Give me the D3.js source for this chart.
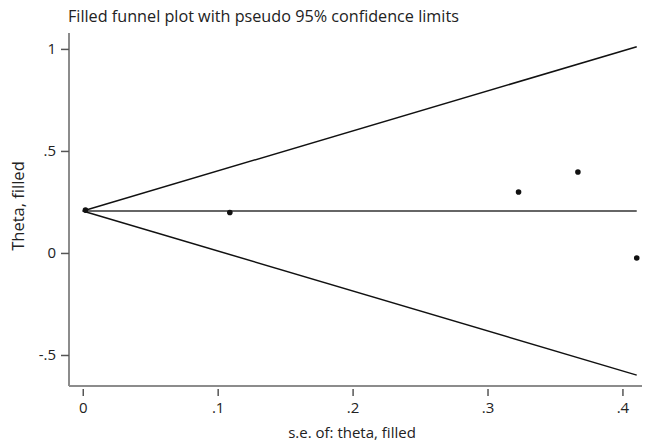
<!DOCTYPE html>
<html>
<head>
<meta charset="utf-8">
<script src="https://cdn.jsdelivr.net/npm/d3@7"></script>
<style>
  body { margin: 0; background: #fff; }
  svg { display: block; font-family: "Open Sans", "Noto Sans", sans-serif; }
</style>
</head>
<body>
<svg width="646" height="445"></svg>
<script>
// study points (standard error, effect)
var seVals = [0.002, 0.109, 0.323, 0.367, 0.4106];
var thetaVals = [0.210, 0.198, 0.299, 0.397, -0.025];
var pooledTheta = 0.206;
var seMax = 0.4106;
var xTicks = [0, 0.1, 0.2, 0.3, 0.4];
var xTickLabels = ["0", ".1", ".2", ".3", ".4"];
var yTicks = [-0.5, 0, 0.5, 1];
var yTickLabels = ["-.5", "0", ".5", "1"];

var svg = d3.select("svg"),
    margin = {top: 33, right: 4, bottom: 59, left: 69},
    width = +svg.attr("width") - margin.left - margin.right,
    height = +svg.attr("height") - margin.top - margin.bottom;

var x = d3.scaleLinear().domain([-0.0102, 0.4145]).range([0, width]);
var y = d3.scaleLinear().domain([-0.652, 1.078]).range([height, 0]);

var g = svg.append("g").attr("transform", "translate(" + margin.left + "," + margin.top + ")");

// axis lines
g.append("line")
    .attr("x1", 0).attr("x2", 0).attr("y1", 0).attr("y2", height)
    .attr("stroke", "#8c8c8c").attr("stroke-width", 2);
g.append("line")
    .attr("x1", 0).attr("x2", width).attr("y1", height).attr("y2", height)
    .attr("stroke", "#8c8c8c").attr("stroke-width", 2);

// x ticks
var xAxis = g.append("g")
    .attr("transform", "translate(0," + (height + 3) + ")")
    .call(d3.axisBottom(x).tickValues(xTicks).tickSize(7).tickPadding(6)
        .tickFormat(function(d, i) { return xTickLabels[i]; }));
xAxis.select(".domain").remove();
xAxis.selectAll("line").attr("stroke", "#555").attr("stroke-width", 1.5);
xAxis.selectAll("text").attr("font-size", 15).attr("fill", "#222")
    .attr("font-family", "Open Sans, sans-serif");

// y ticks
var yAxis = g.append("g")
    .call(d3.axisLeft(y).tickValues(yTicks).tickSize(8).tickPadding(5)
        .tickFormat(function(d, i) { return yTickLabels[i]; }));
yAxis.select(".domain").remove();
yAxis.selectAll("line").attr("stroke", "#555").attr("stroke-width", 1.5);
yAxis.selectAll("text").attr("font-size", 15).attr("fill", "#222")
    .attr("font-family", "Open Sans, sans-serif");

// funnel lines
var z = 1.96;
var funnel = [
    [[0, pooledTheta], [seMax, pooledTheta + z * seMax]],
    [[0, pooledTheta], [seMax, pooledTheta - z * seMax]],
    [[0, pooledTheta], [seMax, pooledTheta]]
];
var line = d3.line()
    .x(function(d) { return x(d[0]); })
    .y(function(d) { return y(d[1]); });

g.selectAll(".funnel")
    .data(funnel)
    .enter().append("path")
    .attr("class", "funnel")
    .attr("fill", "none")
    .attr("stroke", function(d, i) { return i == 2 ? "#333" : "#111"; })
    .attr("stroke-width", 1.5)
    .attr("d", line);

// points
g.selectAll(".pt")
    .data(seVals)
    .enter().append("circle")
    .attr("class", "pt")
    .attr("cx", function(d) { return x(d); })
    .attr("cy", function(d, i) { return y(thetaVals[i]); })
    .attr("r", 2.8)
    .attr("fill", "#111");

// titles
svg.append("text")
    .attr("x", 68).attr("y", 22)
    .attr("font-size", 16.2).attr("fill", "#222")
    .text("Filled funnel plot with pseudo 95% confidence limits");

svg.append("text")
    .attr("x", 352).attr("y", 438)
    .attr("text-anchor", "middle")
    .attr("font-size", 15).attr("fill", "#222")
    .text("s.e. of: theta, filled");

svg.append("text")
    .attr("transform", "translate(24,206) rotate(-90)")
    .attr("text-anchor", "middle")
    .attr("font-size", 16.5).attr("fill", "#222")
    .text("Theta, filled");
</script>
</body>
</html>
